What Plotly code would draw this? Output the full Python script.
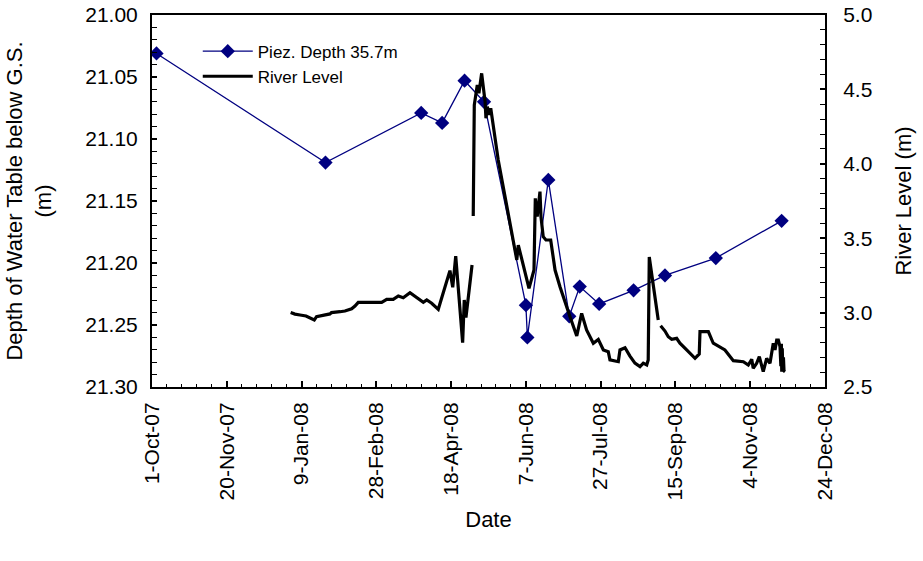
import plotly.graph_objects as go

# Piezometer (35.7 m) depth to water table below ground surface
piez_dates = [
    "2007-10-04", "2008-01-25", "2008-03-29", "2008-04-12", "2008-04-27",
    "2008-05-10", "2008-06-07", "2008-06-08", "2008-06-22", "2008-07-06",
    "2008-07-13", "2008-07-26", "2008-08-18", "2008-09-08", "2008-10-12",
    "2008-11-25",
]
piez_depth = [
    21.031, 21.119, 21.079, 21.087, 21.053,
    21.070, 21.234, 21.260, 21.133, 21.243,
    21.219, 21.233, 21.222, 21.210, 21.196,
    21.166,
]

# River stage record (None marks gaps in the logger record)
river_dates = [
    "2008-01-01 17:00", "2008-01-04 14:00", "2008-01-08 00:00", "2008-01-12 00:00",
    "2008-01-17 12:00", "2008-01-19 00:00", "2008-01-28 00:00", "2008-01-29 00:00",
    "2008-02-03 17:00", "2008-02-07 00:00", "2008-02-11 12:00", "2008-02-13 17:00",
    "2008-02-15 22:00", "2008-03-02 14:00", "2008-03-05 22:00", "2008-03-10 07:00",
    "2008-03-13 17:00", "2008-03-17 00:00", "2008-03-21 12:00", "2008-03-26 00:00",
    "2008-03-30 10:00", "2008-04-01 17:00", "2008-04-05 00:00", "2008-04-09 10:00",
    "2008-04-17 05:00", "2008-04-19 02:00", "2008-04-21 02:00", "2008-04-25 17:00",
    "2008-04-26 19:00", "2008-04-27 22:00", "2008-05-02 00:00",
    "2008-05-02 10:00",
    "2008-05-02 19:00", "2008-05-03 12:00", "2008-05-05 12:00", "2008-05-06 14:00",
    "2008-05-08 10:00", "2008-05-10 17:00", "2008-05-11 07:00", "2008-05-12 05:00",
    "2008-05-13 12:00", "2008-05-14 12:00", "2008-05-19 12:00", "2008-05-22 22:00",
    "2008-05-28 12:00", "2008-05-31 22:00", "2008-06-01 22:00", "2008-06-04 05:00",
    "2008-06-09 02:00", "2008-06-12 10:00", "2008-06-13 07:00", "2008-06-14 14:00",
    "2008-06-15 14:00", "2008-06-16 10:00", "2008-06-17 02:00", "2008-06-18 14:00",
    "2008-06-20 10:00", "2008-06-23 14:00", "2008-06-26 12:00", "2008-06-29 19:00",
    "2008-07-06 12:00", "2008-07-11 00:00", "2008-07-14 07:00", "2008-07-17 14:00",
    "2008-07-22 02:00", "2008-07-25 10:00", "2008-07-28 19:00", "2008-08-01 02:00",
    "2008-08-02 05:00", "2008-08-07 19:00", "2008-08-08 22:00", "2008-08-12 07:00",
    "2008-08-15 14:00", "2008-08-18 22:00", "2008-08-22 07:00", "2008-08-24 12:00",
    "2008-08-26 19:00", "2008-08-27 19:00", "2008-08-28 12:00", "2008-08-31 05:00",
    "2008-09-03 12:00",
    "2008-09-04 06:00",
    "2008-09-05 02:00", "2008-09-08 00:00", "2008-09-10 05:00", "2008-09-12 12:00",
    "2008-09-15 19:00", "2008-09-18 00:00", "2008-09-22 12:00", "2008-09-28 02:00",
    "2008-09-30 22:00", "2008-10-01 10:00", "2008-10-04 17:00", "2008-10-07 00:00",
    "2008-10-10 07:00", "2008-10-18 02:00", "2008-10-23 17:00", "2008-10-30 10:00",
    "2008-11-02 17:00", "2008-11-05 00:00", "2008-11-06 00:00", "2008-11-08 07:00",
    "2008-11-10 02:00", "2008-11-12 17:00", "2008-11-15 00:00", "2008-11-17 05:00",
    "2008-11-19 10:00", "2008-11-20 14:00", "2008-11-21 17:00", "2008-11-22 19:00",
    "2008-11-23 22:00", "2008-11-24 12:00", "2008-11-24 20:00", "2008-11-25 02:00",
    "2008-11-25 10:00", "2008-11-25 18:00", "2008-11-26 05:00", "2008-11-26 14:00",
    "2008-11-27 07:00",
]
river_level = [
    3.000, 2.990, 2.984, 2.977,
    2.950, 2.973, 2.991, 3.000,
    3.006, 3.011, 3.026, 3.044,
    3.069, 3.069, 3.089, 3.089,
    3.112, 3.100, 3.134, 3.100,
    3.069, 3.085, 3.063, 3.022,
    3.282, 3.170, 3.380, 2.798,
    3.085, 2.966, 3.320,
    None,
    3.649, 4.395, 4.530, 4.474,
    4.608, 4.418, 4.306, 4.384,
    4.328, 4.373, 4.026, 3.846,
    3.555, 3.354, 3.454, 3.354,
    3.163, 3.286, 3.768, 3.645,
    3.735, 3.813, 3.645, 3.510,
    3.488, 3.488, 3.286, 3.174,
    2.972, 2.843, 2.995, 2.883,
    2.794, 2.820, 2.749, 2.737,
    2.682, 2.670, 2.749, 2.764,
    2.708, 2.660, 2.637, 2.660,
    2.648, 2.682, 3.374, 3.197,
    2.950,
    None,
    2.911, 2.876, 2.838, 2.821,
    2.827, 2.794, 2.749, 2.693,
    2.722, 2.872, 2.872, 2.872,
    2.794, 2.749, 2.677, 2.670,
    2.648, 2.686, 2.626, 2.659,
    2.704, 2.603, 2.693, 2.659,
    2.794, 2.749, 2.816, 2.816,
    2.771, 2.640, 2.790, 2.603,
    2.760, 2.615, 2.700, 2.608,
    2.602,
]

FONT = "Arial, 'Liberation Sans', sans-serif"
DAY_MS = 86400000

fig = go.Figure()

fig.add_trace(go.Scatter(
    x=piez_dates, y=piez_depth, name="Piez. Depth 35.7m",
    mode="lines+markers",
    line=dict(color="#000080", width=1.3),
    marker=dict(symbol="diamond", size=11, color="#000080"),
    yaxis="y",
))

fig.add_trace(go.Scatter(
    x=river_dates, y=river_level, name="River Level",
    mode="lines", connectgaps=False,
    line=dict(color="black", width=3.2),
    yaxis="y2",
))

fig.update_layout(
    width=923, height=561,
    margin=dict(l=152, r=98, t=15, b=174),
    paper_bgcolor="white", plot_bgcolor="white",
    font=dict(family=FONT, size=21, color="black"),
    showlegend=True,
    legend=dict(
        x=0.068, y=0.95, xanchor="left", yanchor="top",
        bgcolor="rgba(0,0,0,0)", font=dict(size=17),
        itemwidth=50, tracegroupgap=0,
    ),
    xaxis=dict(
        type="date",
        range=["2007-10-01", "2008-12-24"],
        tick0="2007-10-01", dtick=50 * DAY_MS,
        tickformat="%-d-%b-%y", tickangle=-90,
        ticks="inside", ticklen=6, tickwidth=1.5, tickcolor="black",
        minor=dict(tick0="2007-10-01", dtick=10 * DAY_MS, ticks="inside",
                   ticklen=3, tickwidth=1, tickcolor="black"),
        showline=True, linecolor="black", linewidth=2, mirror=True,
        showgrid=False, zeroline=False, automargin=False,
        ticklabelstandoff=5,
        title=dict(text="Date", standoff=12, font=dict(size=22)),
    ),
    yaxis=dict(
        range=[21.30, 21.00], autorange=False,
        dtick=0.05, tick0=21.0, tickformat=".2f",
        ticks="inside", ticklen=5, tickwidth=1.5, tickcolor="black",
        minor=dict(dtick=0.01, ticks="inside", ticklen=5, tickwidth=1,
                   tickcolor="black"),
        showline=True, linecolor="black", linewidth=2,
        showgrid=False, zeroline=False, automargin=False,
        ticklabelstandoff=8,
        title=dict(text="Depth of Water Table below G.S.<br>(m)",
                   standoff=28, font=dict(size=22)),
    ),
    yaxis2=dict(
        range=[2.5, 5.0], autorange=False,
        dtick=0.5, tick0=2.5, tickformat=".1f",
        overlaying="y", side="right",
        ticks="inside", ticklen=5, tickwidth=1.5, tickcolor="black",
        minor=dict(dtick=0.1, ticks="inside", ticklen=5, tickwidth=1,
                   tickcolor="black"),
        showline=True, linecolor="black", linewidth=2,
        showgrid=False, zeroline=False, automargin=False,
        ticklabelstandoff=12,
        title=dict(text="River Level (m)", standoff=24, font=dict(size=22)),
    ),
)

fig.write_html("out.html")
